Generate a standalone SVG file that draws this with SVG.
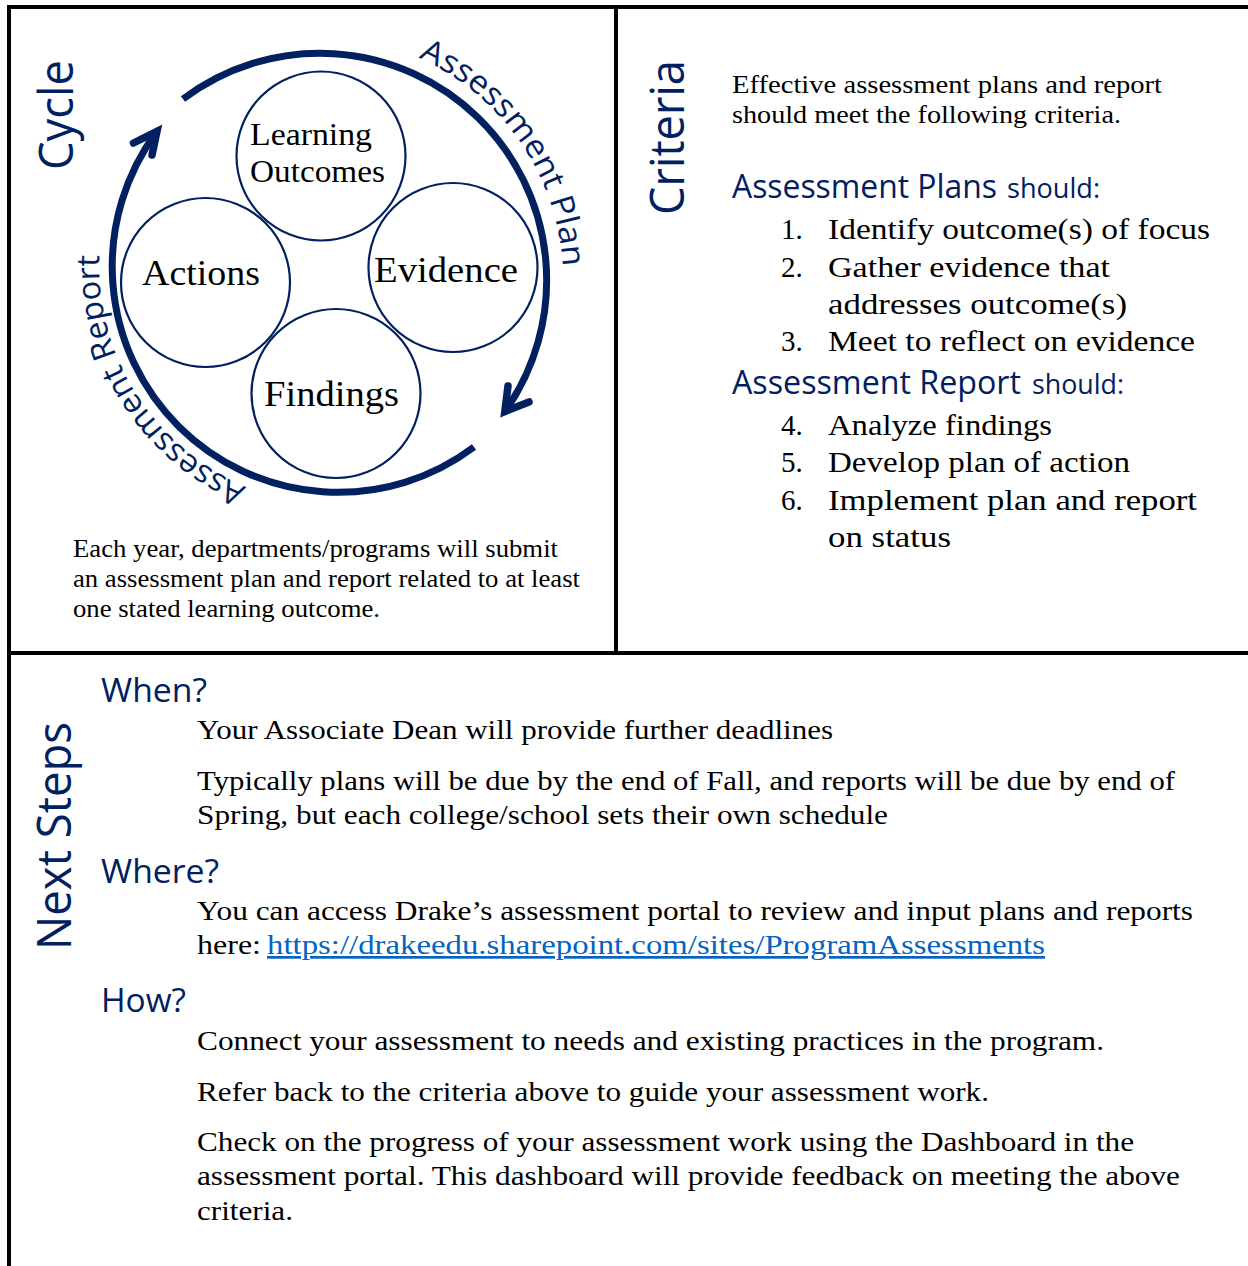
<svg xmlns="http://www.w3.org/2000/svg" width="1248" height="1266" viewBox="0 0 1248 1266">
<style>
.frame{stroke:#000;stroke-width:4;fill:none}
.node{fill:none;stroke:#002060;stroke-width:2.2}
.arc{fill:none;stroke:#002060;stroke-width:7;stroke-linecap:butt}
.head{fill:none;stroke:#002060;stroke-width:7.5;stroke-linecap:round;stroke-linejoin:miter;stroke-miterlimit:10}
.serif{font-family:"Liberation Serif","Times New Roman",serif;fill:#000}
.sans{font-family:"Open Sans","Noto Sans",sans-serif;fill:#002060}
.big{font-size:47px}
.h{font-size:32px}
.hs{font-size:27px}
.lbl{font-size:36px}
.body{font-size:27px}
.crit{font-size:29px}
.intro{font-size:25px}
.para{font-size:26px}
.link{fill:#0563C1;text-decoration:underline}
</style>
<defs>
<path id="planPath" d="M402.75,51.4 A244,244 0 0 1 562.3,302"/>
<path id="reportPath" d="M265.0,493.9 A240,240 0 0 1 102.8,223.9"/>
</defs>
<rect width="1248" height="1266" fill="#fff"/>
<g id="frame">
<line class="frame" x1="7" y1="7" x2="1248" y2="7"/>
<line class="frame" x1="9" y1="5" x2="9" y2="1266"/>
<line class="frame" x1="616" y1="5" x2="616" y2="655"/>
<line class="frame" x1="7" y1="653" x2="1248" y2="653"/>
</g>
<g id="connectors">
<path class="arc" d="M183,99 A227,227 0 0 1 504.8,411.6"/>
<path class="head" d="M508,386 L504.8,411.6 L529,402"/>
<path class="arc" d="M474,447 A226,226 0 0 1 157,131.3"/>
<path class="head" d="M133.5,143 L157,131.3 L152,155"/>
<text class="sans" font-size="32"><textPath href="#planPath" startOffset="17" textLength="267" lengthAdjust="spacingAndGlyphs">Assessment Plan</textPath></text>
<text class="sans" font-size="32"><textPath href="#reportPath" startOffset="20" textLength="292" lengthAdjust="spacingAndGlyphs">Assessment Report</textPath></text>
</g>
<g id="node-learning-outcomes">
<circle class="node" cx="321" cy="156" r="84.5"/>
<text class="serif" font-size="32" x="250" y="145" textLength="122" lengthAdjust="spacingAndGlyphs">Learning</text>
<text class="serif" font-size="32" x="250" y="182" textLength="135" lengthAdjust="spacingAndGlyphs">Outcomes</text>
</g>
<g id="node-evidence">
<circle class="node" cx="453" cy="267.5" r="84.5"/>
<text class="serif lbl" x="374" y="282" textLength="144" lengthAdjust="spacingAndGlyphs">Evidence</text>
</g>
<g id="node-actions">
<circle class="node" cx="205.5" cy="282.5" r="84.5"/>
<text class="serif lbl" x="142" y="285" textLength="118" lengthAdjust="spacingAndGlyphs">Actions</text>
</g>
<g id="node-findings">
<circle class="node" cx="336" cy="393.5" r="84.5"/>
<text class="serif lbl" x="264" y="406" textLength="135" lengthAdjust="spacingAndGlyphs">Findings</text>
</g>
<g id="cycle-section">
<text class="sans big" transform="translate(73,170) rotate(-90)" textLength="110" lengthAdjust="spacingAndGlyphs">Cycle</text>
<text class="serif para" x="73" y="557" textLength="485" lengthAdjust="spacingAndGlyphs">Each year, departments/programs will submit</text>
<text class="serif para" x="73" y="587" textLength="507" lengthAdjust="spacingAndGlyphs">an assessment plan and report related to at least</text>
<text class="serif para" x="73" y="617" textLength="307" lengthAdjust="spacingAndGlyphs">one stated learning outcome.</text>
</g>
<g id="criteria-section">
<text class="sans big" transform="translate(684,215) rotate(-90)" textLength="155" lengthAdjust="spacingAndGlyphs">Criteria</text>
<text class="serif intro" x="732" y="93" textLength="430" lengthAdjust="spacingAndGlyphs">Effective assessment plans and report</text>
<text class="serif intro" x="732" y="123" textLength="389" lengthAdjust="spacingAndGlyphs">should meet the following criteria.</text>
<text class="sans h" x="732" y="198" textLength="265" lengthAdjust="spacingAndGlyphs">Assessment Plans</text>
<text class="sans hs" x="1007" y="198" textLength="93" lengthAdjust="spacingAndGlyphs">should:</text>
<text class="serif crit" x="781" y="239">1.</text>
<text class="serif crit" x="828" y="239" textLength="382" lengthAdjust="spacingAndGlyphs">Identify outcome(s) of focus</text>
<text class="serif crit" x="781" y="277">2.</text>
<text class="serif crit" x="828" y="277" textLength="282" lengthAdjust="spacingAndGlyphs">Gather evidence that</text>
<text class="serif crit" x="828" y="314" textLength="299" lengthAdjust="spacingAndGlyphs">addresses outcome(s)</text>
<text class="serif crit" x="781" y="351">3.</text>
<text class="serif crit" x="828" y="351" textLength="367" lengthAdjust="spacingAndGlyphs">Meet to reflect on evidence</text>
<text class="sans h" x="732" y="394" textLength="289" lengthAdjust="spacingAndGlyphs">Assessment Report</text>
<text class="sans hs" x="1032" y="394" textLength="92" lengthAdjust="spacingAndGlyphs">should:</text>
<text class="serif crit" x="781" y="435">4.</text>
<text class="serif crit" x="828" y="435" textLength="224" lengthAdjust="spacingAndGlyphs">Analyze findings</text>
<text class="serif crit" x="781" y="472">5.</text>
<text class="serif crit" x="828" y="472" textLength="302" lengthAdjust="spacingAndGlyphs">Develop plan of action</text>
<text class="serif crit" x="781" y="510">6.</text>
<text class="serif crit" x="828" y="510" textLength="369" lengthAdjust="spacingAndGlyphs">Implement plan and report</text>
<text class="serif crit" x="828" y="547" textLength="123" lengthAdjust="spacingAndGlyphs">on status</text>
</g>
<g id="next-steps-section">
<text class="sans big" transform="translate(71,950) rotate(-90)" textLength="228" lengthAdjust="spacingAndGlyphs">Next Steps</text>
<text class="sans h" x="101" y="702" textLength="106" lengthAdjust="spacingAndGlyphs">When?</text>
<text class="serif body" x="197" y="739" textLength="636" lengthAdjust="spacingAndGlyphs">Your Associate Dean will provide further deadlines</text>
<text class="serif body" x="197" y="790" textLength="978" lengthAdjust="spacingAndGlyphs">Typically plans will be due by the end of Fall, and reports will be due by end of</text>
<text class="serif body" x="197" y="824" textLength="691" lengthAdjust="spacingAndGlyphs">Spring, but each college/school sets their own schedule</text>
<text class="sans h" x="101" y="883" textLength="118" lengthAdjust="spacingAndGlyphs">Where?</text>
<text class="serif body" x="197" y="920" textLength="996" lengthAdjust="spacingAndGlyphs">You can access Drake’s assessment portal to review and input plans and reports</text>
<text class="serif body" x="197" y="954" textLength="64" lengthAdjust="spacingAndGlyphs">here:</text>
<text class="serif body link" x="267" y="954" textLength="778" lengthAdjust="spacingAndGlyphs">https://drakeedu.sharepoint.com/sites/ProgramAssessments</text>
<text class="sans h" x="101" y="1012" textLength="85" lengthAdjust="spacingAndGlyphs">How?</text>
<text class="serif body" x="197" y="1050" textLength="907" lengthAdjust="spacingAndGlyphs">Connect your assessment to needs and existing practices in the program.</text>
<text class="serif body" x="197" y="1101" textLength="792" lengthAdjust="spacingAndGlyphs">Refer back to the criteria above to guide your assessment work.</text>
<text class="serif body" x="197" y="1151" textLength="937" lengthAdjust="spacingAndGlyphs">Check on the progress of your assessment work using the Dashboard in the</text>
<text class="serif body" x="197" y="1185" textLength="983" lengthAdjust="spacingAndGlyphs">assessment portal. This dashboard will provide feedback on meeting the above</text>
<text class="serif body" x="197" y="1220" textLength="96" lengthAdjust="spacingAndGlyphs">criteria.</text>
</g>
</svg>
